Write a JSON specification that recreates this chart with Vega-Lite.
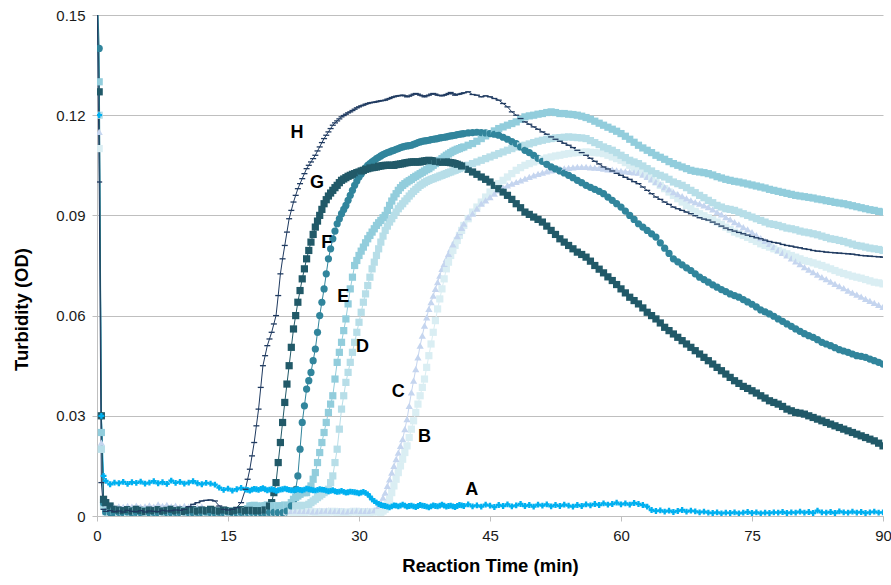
{
"$schema": "https://vega.github.io/schema/vega-lite/v6.json",
"width": 786,
"height": 501,
"autosize": {"type": "none"},
"padding": {"left": 97, "top": 15, "right": 8, "bottom": 69},
"background": "white",
"config": {"view": {"stroke": null}, "font": "Liberation Sans"},
"datasets": {
"turb": [
{"t":0,"A":0.16,"B":0.16,"C":0.16,"D":0.16,"E":0.16,"F":0.16,"G":0.16,"H":0.16},
{"t":0.25,"A":0.12,"B":0.11,"C":0.115,"D":0.12,"E":0.13,"F":0.14,"G":0.127,"H":0.1},
{"t":0.5,"A":0.03,"B":0.02,"C":0.022,"D":0.02,"E":0.025,"F":0.03,"G":0.03,"H":0.01},
{"t":0.75,"A":0.012,"B":0.003,"C":0.004,"D":0.003,"E":0.004,"F":0.004,"G":0.005,"H":0.002},
{"t":1,"A":0.0105,"B":0.0012,"C":0.0028,"D":0.0016,"E":0.0015,"F":0.0012,"G":0.004,"H":0.0014},
{"t":1.5,"A":0.0095,"B":0.001,"C":0.003,"D":0.0014,"E":0.0017,"F":0.001,"G":0.003,"H":0.0016},
{"t":2,"A":0.01,"B":0.0014,"C":0.0026,"D":0.0015,"E":0.0014,"F":0.0009,"G":0.002,"H":0.0013},
{"t":2.5,"A":0.0098,"B":0.0011,"C":0.0029,"D":0.0017,"E":0.0016,"F":0.0011,"G":0.0018,"H":0.0015},
{"t":3,"A":0.0102,"B":0.0013,"C":0.0027,"D":0.0014,"E":0.0015,"F":0.001,"G":0.0016,"H":0.0012},
{"t":3.5,"A":0.0096,"B":0.001,"C":0.003,"D":0.0016,"E":0.0013,"F":0.0012,"G":0.0019,"H":0.0017},
{"t":4,"A":0.0101,"B":0.0012,"C":0.0028,"D":0.0015,"E":0.0016,"F":0.0009,"G":0.0015,"H":0.0014},
{"t":4.5,"A":0.0099,"B":0.0014,"C":0.0031,"D":0.0013,"E":0.0015,"F":0.0011,"G":0.002,"H":0.0013},
{"t":5,"A":0.0103,"B":0.0011,"C":0.0027,"D":0.0016,"E":0.0014,"F":0.001,"G":0.0017,"H":0.0016},
{"t":5.5,"A":0.0097,"B":0.0013,"C":0.0029,"D":0.0015,"E":0.0016,"F":0.0012,"G":0.0014,"H":0.0012},
{"t":6,"A":0.01,"B":0.001,"C":0.0032,"D":0.0014,"E":0.0015,"F":0.0009,"G":0.0018,"H":0.0015},
{"t":6.5,"A":0.0104,"B":0.0012,"C":0.0028,"D":0.0016,"E":0.0013,"F":0.0011,"G":0.0016,"H":0.0014},
{"t":7,"A":0.0098,"B":0.0014,"C":0.0035,"D":0.0015,"E":0.0016,"F":0.001,"G":0.0019,"H":0.0013},
{"t":7.5,"A":0.0101,"B":0.0011,"C":0.003,"D":0.0013,"E":0.0015,"F":0.0012,"G":0.0015,"H":0.0017},
{"t":8,"A":0.0096,"B":0.0013,"C":0.0033,"D":0.0016,"E":0.0014,"F":0.001,"G":0.0017,"H":0.0015},
{"t":8.5,"A":0.0106,"B":0.001,"C":0.0029,"D":0.0015,"E":0.0016,"F":0.0009,"G":0.002,"H":0.0016},
{"t":9,"A":0.0099,"B":0.0012,"C":0.0031,"D":0.0014,"E":0.0015,"F":0.0011,"G":0.0016,"H":0.0018},
{"t":9.5,"A":0.0102,"B":0.0014,"C":0.0027,"D":0.0016,"E":0.0013,"F":0.001,"G":0.0018,"H":0.0017},
{"t":10,"A":0.0097,"B":0.0011,"C":0.003,"D":0.0015,"E":0.0016,"F":0.0012,"G":0.0014,"H":0.002},
{"t":10.5,"A":0.01,"B":0.0013,"C":0.0028,"D":0.0013,"E":0.0015,"F":0.001,"G":0.0017,"H":0.0028},
{"t":11,"A":0.0104,"B":0.001,"C":0.0029,"D":0.0016,"E":0.0014,"F":0.0009,"G":0.0019,"H":0.0035},
{"t":11.5,"A":0.0098,"B":0.0012,"C":0.0026,"D":0.0015,"E":0.0016,"F":0.0011,"G":0.0015,"H":0.004},
{"t":12,"A":0.0095,"B":0.0014,"C":0.0028,"D":0.0014,"E":0.0015,"F":0.001,"G":0.0018,"H":0.0045},
{"t":12.5,"A":0.0099,"B":0.0011,"C":0.0018,"D":0.0016,"E":0.0013,"F":0.0012,"G":0.0016,"H":0.0047},
{"t":13,"A":0.0097,"B":0.0013,"C":0.0016,"D":0.0015,"E":0.0016,"F":0.001,"G":0.002,"H":0.0048},
{"t":13.5,"A":0.0094,"B":0.001,"C":0.0015,"D":0.0014,"E":0.0015,"F":0.0009,"G":0.0017,"H":0.0045},
{"t":14,"A":0.0085,"B":0.0012,"C":0.0017,"D":0.0016,"E":0.0014,"F":0.0011,"G":0.0015,"H":0.003},
{"t":14.5,"A":0.0078,"B":0.0014,"C":0.0014,"D":0.0015,"E":0.0016,"F":0.001,"G":0.0018,"H":0.002},
{"t":15,"A":0.0082,"B":0.0011,"C":0.0016,"D":0.0013,"E":0.0015,"F":0.0012,"G":0.0016,"H":0.0018},
{"t":15.5,"A":0.0076,"B":0.0013,"C":0.0015,"D":0.0016,"E":0.0013,"F":0.001,"G":0.0014,"H":0.002},
{"t":16,"A":0.008,"B":0.001,"C":0.0017,"D":0.0015,"E":0.0016,"F":0.0009,"G":0.0017,"H":0.0025},
{"t":16.5,"A":0.0084,"B":0.0012,"C":0.0014,"D":0.0014,"E":0.0015,"F":0.0011,"G":0.0019,"H":0.004},
{"t":17,"A":0.0079,"B":0.0014,"C":0.0016,"D":0.0016,"E":0.0014,"F":0.001,"G":0.0015,"H":0.008},
{"t":17.5,"A":0.0076,"B":0.0011,"C":0.0015,"D":0.0015,"E":0.003,"F":0.0012,"G":0.0018,"H":0.014},
{"t":18,"A":0.0081,"B":0.0013,"C":0.0013,"D":0.0014,"E":0.0032,"F":0.001,"G":0.0016,"H":0.022},
{"t":18.5,"A":0.0078,"B":0.001,"C":0.0016,"D":0.0016,"E":0.0028,"F":0.0009,"G":0.0017,"H":0.032},
{"t":19,"A":0.0083,"B":0.0012,"C":0.0015,"D":0.0015,"E":0.003,"F":0.0011,"G":0.0015,"H":0.045},
{"t":19.5,"A":0.0077,"B":0.0014,"C":0.0017,"D":0.003,"E":0.0033,"F":0.001,"G":0.002,"H":0.051},
{"t":20,"A":0.008,"B":0.0011,"C":0.0014,"D":0.0032,"E":0.0029,"F":0.0012,"G":0.004,"H":0.055},
{"t":20.5,"A":0.0075,"B":0.0013,"C":0.0016,"D":0.0028,"E":0.0031,"F":0.001,"G":0.01,"H":0.06},
{"t":21,"A":0.0079,"B":0.001,"C":0.0015,"D":0.003,"E":0.003,"F":0.0011,"G":0.022,"H":0.0725},
{"t":21.5,"A":0.0082,"B":0.0012,"C":0.0013,"D":0.0033,"E":0.0032,"F":0.001,"G":0.034,"H":0.081},
{"t":22,"A":0.0078,"B":0.0014,"C":0.0016,"D":0.0029,"E":0.003,"F":0.002,"G":0.045,"H":0.089},
{"t":22.5,"A":0.0076,"B":0.0011,"C":0.0015,"D":0.0031,"E":0.005,"F":0.004,"G":0.056,"H":0.094},
{"t":23,"A":0.008,"B":0.0013,"C":0.0017,"D":0.003,"E":0.006,"F":0.012,"G":0.064,"H":0.098},
{"t":23.5,"A":0.0077,"B":0.001,"C":0.0014,"D":0.0032,"E":0.007,"F":0.028,"G":0.071,"H":0.101},
{"t":24,"A":0.0082,"B":0.0012,"C":0.0016,"D":0.003,"E":0.007,"F":0.038,"G":0.077,"H":0.104},
{"t":24.5,"A":0.0079,"B":0.0014,"C":0.0015,"D":0.004,"E":0.009,"F":0.043,"G":0.082,"H":0.106},
{"t":25,"A":0.0076,"B":0.0011,"C":0.0013,"D":0.005,"E":0.013,"F":0.05,"G":0.0865,"H":0.108},
{"t":25.5,"A":0.008,"B":0.0013,"C":0.0016,"D":0.006,"E":0.019,"F":0.06,"G":0.09,"H":0.1105},
{"t":26,"A":0.0078,"B":0.001,"C":0.0015,"D":0.007,"E":0.025,"F":0.068,"G":0.0935,"H":0.113},
{"t":26.5,"A":0.0074,"B":0.0012,"C":0.0017,"D":0.008,"E":0.031,"F":0.077,"G":0.0958,"H":0.115},
{"t":27,"A":0.0077,"B":0.0014,"C":0.0014,"D":0.012,"E":0.036,"F":0.083,"G":0.0975,"H":0.117},
{"t":27.5,"A":0.0072,"B":0.0011,"C":0.0016,"D":0.02,"E":0.046,"F":0.0875,"G":0.099,"H":0.1183},
{"t":28,"A":0.0075,"B":0.0013,"C":0.0015,"D":0.032,"E":0.052,"F":0.0905,"G":0.1005,"H":0.1195},
{"t":28.5,"A":0.007,"B":0.001,"C":0.0013,"D":0.04,"E":0.059,"F":0.093,"G":0.1013,"H":0.1203},
{"t":29,"A":0.0073,"B":0.0012,"C":0.0016,"D":0.046,"E":0.068,"F":0.096,"G":0.102,"H":0.121},
{"t":29.5,"A":0.0071,"B":0.0014,"C":0.0015,"D":0.052,"E":0.075,"F":0.099,"G":0.1025,"H":0.1218},
{"t":30,"A":0.0068,"B":0.0011,"C":0.0017,"D":0.058,"E":0.078,"F":0.1015,"G":0.103,"H":0.1225},
{"t":30.5,"A":0.0072,"B":0.0013,"C":0.0014,"D":0.064,"E":0.0805,"F":0.1033,"G":0.1035,"H":0.123},
{"t":31,"A":0.0065,"B":0.001,"C":0.0016,"D":0.069,"E":0.083,"F":0.105,"G":0.104,"H":0.1235},
{"t":31.5,"A":0.005,"B":0.0012,"C":0.0015,"D":0.074,"E":0.085,"F":0.106,"G":0.1043,"H":0.1238},
{"t":32,"A":0.004,"B":0.0014,"C":0.002,"D":0.078,"E":0.087,"F":0.107,"G":0.1045,"H":0.124},
{"t":32.5,"A":0.0033,"B":0.0011,"C":0.004,"D":0.082,"E":0.0885,"F":0.1078,"G":0.1048,"H":0.1243},
{"t":33,"A":0.003,"B":0.002,"C":0.007,"D":0.0855,"E":0.09,"F":0.1085,"G":0.105,"H":0.1245},
{"t":33.5,"A":0.0026,"B":0.005,"C":0.011,"D":0.088,"E":0.093,"F":0.109,"G":0.105,"H":0.125},
{"t":34,"A":0.0032,"B":0.009,"C":0.015,"D":0.09,"E":0.0955,"F":0.1095,"G":0.105,"H":0.1255},
{"t":34.5,"A":0.0029,"B":0.013,"C":0.019,"D":0.092,"E":0.0975,"F":0.11,"G":0.1053,"H":0.1258},
{"t":35,"A":0.0034,"B":0.017,"C":0.023,"D":0.0935,"E":0.099,"F":0.1105,"G":0.1055,"H":0.126},
{"t":35.5,"A":0.0028,"B":0.021,"C":0.029,"D":0.095,"E":0.1,"F":0.1108,"G":0.1058,"H":0.1255},
{"t":36,"A":0.0031,"B":0.026,"C":0.037,"D":0.0965,"E":0.1008,"F":0.111,"G":0.106,"H":0.126},
{"t":36.5,"A":0.0027,"B":0.031,"C":0.044,"D":0.0978,"E":0.1017,"F":0.1115,"G":0.106,"H":0.1265},
{"t":37,"A":0.0033,"B":0.036,"C":0.051,"D":0.099,"E":0.1025,"F":0.112,"G":0.106,"H":0.126},
{"t":37.5,"A":0.003,"B":0.041,"C":0.057,"D":0.0998,"E":0.1033,"F":0.1123,"G":0.1063,"H":0.1255},
{"t":38,"A":0.0026,"B":0.048,"C":0.062,"D":0.1005,"E":0.104,"F":0.1125,"G":0.1065,"H":0.126},
{"t":38.5,"A":0.0032,"B":0.055,"C":0.066,"D":0.101,"E":0.105,"F":0.1128,"G":0.1063,"H":0.1265},
{"t":39,"A":0.0029,"B":0.062,"C":0.07,"D":0.1015,"E":0.106,"F":0.113,"G":0.106,"H":0.126},
{"t":39.5,"A":0.0034,"B":0.068,"C":0.074,"D":0.102,"E":0.107,"F":0.1133,"G":0.106,"H":0.1258},
{"t":40,"A":0.0028,"B":0.074,"C":0.077,"D":0.1025,"E":0.108,"F":0.1135,"G":0.106,"H":0.1262},
{"t":40.5,"A":0.0031,"B":0.078,"C":0.08,"D":0.103,"E":0.1088,"F":0.1138,"G":0.1058,"H":0.1268},
{"t":41,"A":0.0027,"B":0.081,"C":0.0825,"D":0.1035,"E":0.1095,"F":0.114,"G":0.1055,"H":0.126},
{"t":41.5,"A":0.0033,"B":0.084,"C":0.085,"D":0.104,"E":0.11,"F":0.1143,"G":0.105,"H":0.1263},
{"t":42,"A":0.003,"B":0.087,"C":0.0875,"D":0.1045,"E":0.1105,"F":0.1145,"G":0.1045,"H":0.1267},
{"t":42.5,"A":0.0035,"B":0.089,"C":0.0895,"D":0.105,"E":0.111,"F":0.1147,"G":0.1038,"H":0.127},
{"t":43,"A":0.0029,"B":0.091,"C":0.0905,"D":0.1055,"E":0.1115,"F":0.1148,"G":0.103,"H":0.1262},
{"t":43.5,"A":0.0032,"B":0.0925,"C":0.092,"D":0.106,"E":0.1122,"F":0.1149,"G":0.1023,"H":0.126},
{"t":44,"A":0.0028,"B":0.094,"C":0.0935,"D":0.1065,"E":0.113,"F":0.1148,"G":0.1015,"H":0.1255},
{"t":44.5,"A":0.0034,"B":0.0955,"C":0.0945,"D":0.107,"E":0.1138,"F":0.1147,"G":0.1008,"H":0.1258},
{"t":45,"A":0.0031,"B":0.097,"C":0.0955,"D":0.1075,"E":0.1145,"F":0.1145,"G":0.1,"H":0.1255},
{"t":45.5,"A":0.0027,"B":0.0983,"C":0.0965,"D":0.108,"E":0.1153,"F":0.1143,"G":0.099,"H":0.125},
{"t":46,"A":0.0033,"B":0.0995,"C":0.0975,"D":0.1085,"E":0.116,"F":0.114,"G":0.098,"H":0.1245},
{"t":46.5,"A":0.003,"B":0.1005,"C":0.0983,"D":0.109,"E":0.1165,"F":0.1134,"G":0.097,"H":0.1235},
{"t":47,"A":0.0035,"B":0.1015,"C":0.099,"D":0.1095,"E":0.117,"F":0.1128,"G":0.096,"H":0.1225},
{"t":47.5,"A":0.0029,"B":0.1025,"C":0.0995,"D":0.11,"E":0.1175,"F":0.1121,"G":0.0948,"H":0.121},
{"t":48,"A":0.0032,"B":0.1035,"C":0.1,"D":0.1105,"E":0.118,"F":0.1115,"G":0.0935,"H":0.12},
{"t":48.5,"A":0.0036,"B":0.1043,"C":0.1005,"D":0.1108,"E":0.1188,"F":0.1105,"G":0.0923,"H":0.119},
{"t":49,"A":0.003,"B":0.105,"C":0.101,"D":0.111,"E":0.1195,"F":0.1095,"G":0.091,"H":0.118},
{"t":49.5,"A":0.0033,"B":0.1055,"C":0.1015,"D":0.1114,"E":0.1198,"F":0.1088,"G":0.0903,"H":0.1173},
{"t":50,"A":0.0028,"B":0.106,"C":0.102,"D":0.1118,"E":0.12,"F":0.108,"G":0.0895,"H":0.1165},
{"t":50.5,"A":0.0034,"B":0.1064,"C":0.1024,"D":0.1122,"E":0.1203,"F":0.1071,"G":0.0888,"H":0.1158},
{"t":51,"A":0.0031,"B":0.1068,"C":0.1028,"D":0.1125,"E":0.1205,"F":0.1062,"G":0.088,"H":0.115},
{"t":51.5,"A":0.0035,"B":0.1072,"C":0.1032,"D":0.1128,"E":0.1208,"F":0.1053,"G":0.0868,"H":0.1143},
{"t":52,"A":0.0029,"B":0.1075,"C":0.1035,"D":0.113,"E":0.121,"F":0.1045,"G":0.0855,"H":0.1135},
{"t":52.5,"A":0.0033,"B":0.1078,"C":0.1038,"D":0.1132,"E":0.1208,"F":0.1039,"G":0.0843,"H":0.1128},
{"t":53,"A":0.003,"B":0.108,"C":0.104,"D":0.1133,"E":0.1205,"F":0.1033,"G":0.083,"H":0.1122},
{"t":53.5,"A":0.0034,"B":0.1083,"C":0.1041,"D":0.1134,"E":0.1205,"F":0.1027,"G":0.082,"H":0.1116},
{"t":54,"A":0.0031,"B":0.1085,"C":0.1042,"D":0.1135,"E":0.1203,"F":0.102,"G":0.081,"H":0.111},
{"t":54.5,"A":0.0028,"B":0.1087,"C":0.1044,"D":0.1134,"E":0.1202,"F":0.1013,"G":0.08,"H":0.1103},
{"t":55,"A":0.0033,"B":0.1088,"C":0.1045,"D":0.1133,"E":0.12,"F":0.1005,"G":0.079,"H":0.1095},
{"t":55.5,"A":0.003,"B":0.1089,"C":0.1045,"D":0.1132,"E":0.1197,"F":0.0998,"G":0.0783,"H":0.1088},
{"t":56,"A":0.0035,"B":0.109,"C":0.1045,"D":0.113,"E":0.1193,"F":0.099,"G":0.0775,"H":0.108},
{"t":56.5,"A":0.0032,"B":0.1089,"C":0.1044,"D":0.1124,"E":0.1188,"F":0.0984,"G":0.0763,"H":0.1071},
{"t":57,"A":0.0036,"B":0.1088,"C":0.1043,"D":0.1118,"E":0.1182,"F":0.0978,"G":0.075,"H":0.1062},
{"t":57.5,"A":0.0033,"B":0.1087,"C":0.1042,"D":0.1112,"E":0.1176,"F":0.0972,"G":0.0739,"H":0.1054},
{"t":58,"A":0.0038,"B":0.1085,"C":0.104,"D":0.1105,"E":0.117,"F":0.0965,"G":0.0728,"H":0.1045},
{"t":58.5,"A":0.0034,"B":0.108,"C":0.1038,"D":0.11,"E":0.1164,"F":0.0955,"G":0.0716,"H":0.1039},
{"t":59,"A":0.0036,"B":0.1075,"C":0.1037,"D":0.1095,"E":0.1158,"F":0.0945,"G":0.0705,"H":0.1033},
{"t":59.5,"A":0.004,"B":0.107,"C":0.1035,"D":0.1088,"E":0.1152,"F":0.0935,"G":0.0693,"H":0.1026},
{"t":60,"A":0.0035,"B":0.1065,"C":0.1033,"D":0.108,"E":0.1145,"F":0.0925,"G":0.068,"H":0.102},
{"t":60.5,"A":0.0038,"B":0.1058,"C":0.1032,"D":0.1073,"E":0.1137,"F":0.0913,"G":0.0668,"H":0.1014},
{"t":61,"A":0.0034,"B":0.105,"C":0.103,"D":0.1065,"E":0.1128,"F":0.09,"G":0.0655,"H":0.1008},
{"t":61.5,"A":0.0039,"B":0.1043,"C":0.1029,"D":0.106,"E":0.1119,"F":0.0888,"G":0.0645,"H":0.1001},
{"t":62,"A":0.0036,"B":0.1035,"C":0.1028,"D":0.1055,"E":0.111,"F":0.0875,"G":0.0635,"H":0.0995},
{"t":62.5,"A":0.0033,"B":0.1028,"C":0.1022,"D":0.1048,"E":0.1102,"F":0.0865,"G":0.0623,"H":0.0985},
{"t":63,"A":0.0028,"B":0.102,"C":0.1015,"D":0.104,"E":0.1095,"F":0.0855,"G":0.061,"H":0.0975},
{"t":63.5,"A":0.0018,"B":0.101,"C":0.1008,"D":0.1033,"E":0.1088,"F":0.0845,"G":0.06,"H":0.0965},
{"t":64,"A":0.0015,"B":0.1,"C":0.1,"D":0.1025,"E":0.108,"F":0.0835,"G":0.059,"H":0.0955},
{"t":64.5,"A":0.0017,"B":0.099,"C":0.0993,"D":0.102,"E":0.1074,"F":0.0818,"G":0.0578,"H":0.0948},
{"t":65,"A":0.0013,"B":0.098,"C":0.0985,"D":0.1015,"E":0.1068,"F":0.0802,"G":0.0565,"H":0.094},
{"t":65.5,"A":0.0016,"B":0.097,"C":0.0978,"D":0.1008,"E":0.1061,"F":0.0786,"G":0.0555,"H":0.0933},
{"t":66,"A":0.0012,"B":0.096,"C":0.097,"D":0.1,"E":0.1055,"F":0.077,"G":0.0545,"H":0.0925},
{"t":66.5,"A":0.0015,"B":0.095,"C":0.0964,"D":0.0995,"E":0.105,"F":0.0761,"G":0.0535,"H":0.092},
{"t":67,"A":0.0018,"B":0.094,"C":0.0958,"D":0.099,"E":0.1045,"F":0.0752,"G":0.0525,"H":0.0915},
{"t":67.5,"A":0.0013,"B":0.093,"C":0.0951,"D":0.0983,"E":0.104,"F":0.0743,"G":0.0515,"H":0.091},
{"t":68,"A":0.0016,"B":0.092,"C":0.0945,"D":0.0975,"E":0.1035,"F":0.0735,"G":0.0505,"H":0.0905},
{"t":68.5,"A":0.0014,"B":0.0912,"C":0.094,"D":0.0968,"E":0.1032,"F":0.0725,"G":0.0495,"H":0.0899},
{"t":69,"A":0.0011,"B":0.0905,"C":0.0935,"D":0.096,"E":0.103,"F":0.0715,"G":0.0485,"H":0.0893},
{"t":69.5,"A":0.0013,"B":0.0899,"C":0.093,"D":0.0953,"E":0.1028,"F":0.0708,"G":0.0475,"H":0.0889},
{"t":70,"A":0.001,"B":0.0893,"C":0.0925,"D":0.0945,"E":0.1025,"F":0.07,"G":0.0465,"H":0.0886},
{"t":70.5,"A":0.0009,"B":0.0887,"C":0.0918,"D":0.0938,"E":0.1021,"F":0.0692,"G":0.0455,"H":0.088},
{"t":71,"A":0.0011,"B":0.088,"C":0.091,"D":0.093,"E":0.1016,"F":0.0685,"G":0.0445,"H":0.0874},
{"t":71.5,"A":0.0008,"B":0.0873,"C":0.0903,"D":0.0925,"E":0.1012,"F":0.0678,"G":0.0435,"H":0.0868},
{"t":72,"A":0.001,"B":0.0865,"C":0.0895,"D":0.092,"E":0.1008,"F":0.0672,"G":0.0425,"H":0.0862},
{"t":72.5,"A":0.0009,"B":0.0858,"C":0.0888,"D":0.0918,"E":0.1005,"F":0.0665,"G":0.0415,"H":0.0857},
{"t":73,"A":0.0011,"B":0.085,"C":0.088,"D":0.0915,"E":0.1002,"F":0.066,"G":0.0405,"H":0.0853},
{"t":73.5,"A":0.0008,"B":0.0845,"C":0.0873,"D":0.091,"E":0.1,"F":0.0655,"G":0.0397,"H":0.0849},
{"t":74,"A":0.001,"B":0.084,"C":0.0865,"D":0.0905,"E":0.0997,"F":0.0648,"G":0.0388,"H":0.0845},
{"t":74.5,"A":0.0012,"B":0.0834,"C":0.0858,"D":0.09,"E":0.0994,"F":0.0641,"G":0.0382,"H":0.0841},
{"t":75,"A":0.0009,"B":0.0828,"C":0.085,"D":0.0895,"E":0.0991,"F":0.0634,"G":0.0375,"H":0.0837},
{"t":75.5,"A":0.0011,"B":0.0822,"C":0.0841,"D":0.089,"E":0.0988,"F":0.0626,"G":0.0368,"H":0.0833},
{"t":76,"A":0.0008,"B":0.0815,"C":0.0832,"D":0.0885,"E":0.0985,"F":0.0617,"G":0.036,"H":0.083},
{"t":76.5,"A":0.001,"B":0.081,"C":0.0824,"D":0.088,"E":0.0982,"F":0.0611,"G":0.0353,"H":0.0826},
{"t":77,"A":0.0009,"B":0.0805,"C":0.0815,"D":0.0875,"E":0.0978,"F":0.0605,"G":0.0345,"H":0.0822},
{"t":77.5,"A":0.0011,"B":0.08,"C":0.0806,"D":0.0873,"E":0.0975,"F":0.0598,"G":0.034,"H":0.0819},
{"t":78,"A":0.001,"B":0.0795,"C":0.0796,"D":0.087,"E":0.0972,"F":0.059,"G":0.0335,"H":0.0817},
{"t":78.5,"A":0.0012,"B":0.079,"C":0.0788,"D":0.0866,"E":0.0969,"F":0.0583,"G":0.0328,"H":0.0813},
{"t":79,"A":0.0009,"B":0.0785,"C":0.078,"D":0.0862,"E":0.0966,"F":0.0575,"G":0.032,"H":0.081},
{"t":79.5,"A":0.0011,"B":0.078,"C":0.0771,"D":0.086,"E":0.0963,"F":0.0568,"G":0.0315,"H":0.0808},
{"t":80,"A":0.001,"B":0.0775,"C":0.0762,"D":0.0857,"E":0.096,"F":0.056,"G":0.031,"H":0.0805},
{"t":80.5,"A":0.0013,"B":0.077,"C":0.0754,"D":0.0853,"E":0.0958,"F":0.0553,"G":0.0308,"H":0.0803},
{"t":81,"A":0.001,"B":0.0765,"C":0.0745,"D":0.085,"E":0.0956,"F":0.0546,"G":0.0305,"H":0.08},
{"t":81.5,"A":0.0012,"B":0.0762,"C":0.0738,"D":0.0848,"E":0.0954,"F":0.054,"G":0.03,"H":0.0798},
{"t":82,"A":0.0009,"B":0.0758,"C":0.073,"D":0.0845,"E":0.0952,"F":0.0535,"G":0.0295,"H":0.0795},
{"t":82.5,"A":0.0016,"B":0.0754,"C":0.0723,"D":0.0842,"E":0.0949,"F":0.0528,"G":0.029,"H":0.0793},
{"t":83,"A":0.0011,"B":0.075,"C":0.0715,"D":0.0838,"E":0.0947,"F":0.052,"G":0.0285,"H":0.0792},
{"t":83.5,"A":0.001,"B":0.0745,"C":0.0709,"D":0.0834,"E":0.0944,"F":0.0515,"G":0.028,"H":0.079},
{"t":84,"A":0.0012,"B":0.074,"C":0.0702,"D":0.083,"E":0.0942,"F":0.051,"G":0.0275,"H":0.0789},
{"t":84.5,"A":0.0009,"B":0.0735,"C":0.0695,"D":0.0828,"E":0.0939,"F":0.0504,"G":0.027,"H":0.0788},
{"t":85,"A":0.0014,"B":0.073,"C":0.0688,"D":0.0825,"E":0.0937,"F":0.0498,"G":0.0265,"H":0.0787},
{"t":85.5,"A":0.0011,"B":0.0726,"C":0.0682,"D":0.0822,"E":0.0935,"F":0.0494,"G":0.026,"H":0.0786},
{"t":86,"A":0.001,"B":0.0722,"C":0.0675,"D":0.0818,"E":0.0932,"F":0.049,"G":0.0255,"H":0.0785},
{"t":86.5,"A":0.0013,"B":0.0718,"C":0.0669,"D":0.0814,"E":0.0929,"F":0.0485,"G":0.025,"H":0.0784},
{"t":87,"A":0.001,"B":0.0715,"C":0.0663,"D":0.081,"E":0.0926,"F":0.048,"G":0.0245,"H":0.0782},
{"t":87.5,"A":0.0012,"B":0.0712,"C":0.0657,"D":0.0808,"E":0.0923,"F":0.0478,"G":0.024,"H":0.078},
{"t":88,"A":0.0009,"B":0.0708,"C":0.065,"D":0.0805,"E":0.092,"F":0.0475,"G":0.0235,"H":0.0779},
{"t":88.5,"A":0.0011,"B":0.0704,"C":0.0644,"D":0.0802,"E":0.0917,"F":0.047,"G":0.023,"H":0.0778},
{"t":89,"A":0.0013,"B":0.07,"C":0.0638,"D":0.08,"E":0.0915,"F":0.0465,"G":0.0225,"H":0.0777},
{"t":89.5,"A":0.001,"B":0.0698,"C":0.0632,"D":0.0798,"E":0.0912,"F":0.046,"G":0.0218,"H":0.0776},
{"t":90,"A":0.0011,"B":0.0695,"C":0.0626,"D":0.0795,"E":0.091,"F":0.0455,"G":0.021,"H":0.0775},
{"t":17.25,"A":0.0078,"B":0.0012,"C":0.0015,"D":0.0015,"E":0.0022,"F":0.0011,"G":0.0017,"H":0.011},
{"t":17.75,"A":0.0079,"B":0.0012,"C":0.0014,"D":0.0015,"E":0.0031,"F":0.0011,"G":0.0017,"H":0.018},
{"t":18.25,"A":0.008,"B":0.0011,"C":0.0015,"D":0.0015,"E":0.003,"F":0.001,"G":0.0016,"H":0.027},
{"t":18.75,"A":0.0081,"B":0.0011,"C":0.0015,"D":0.0015,"E":0.0029,"F":0.001,"G":0.0016,"H":0.0385},
{"t":19.25,"A":0.008,"B":0.0013,"C":0.0016,"D":0.0022,"E":0.0031,"F":0.001,"G":0.0018,"H":0.048},
{"t":19.75,"A":0.0079,"B":0.0012,"C":0.0015,"D":0.0031,"E":0.0031,"F":0.0011,"G":0.003,"H":0.053},
{"t":20.25,"A":0.0078,"B":0.0012,"C":0.0015,"D":0.003,"E":0.003,"F":0.0011,"G":0.007,"H":0.0575},
{"t":20.75,"A":0.0077,"B":0.0011,"C":0.0015,"D":0.0029,"E":0.003,"F":0.001,"G":0.016,"H":0.066},
{"t":21.25,"A":0.008,"B":0.0011,"C":0.0014,"D":0.0031,"E":0.0031,"F":0.001,"G":0.028,"H":0.077},
{"t":21.75,"A":0.008,"B":0.0013,"C":0.0014,"D":0.0031,"E":0.0031,"F":0.0015,"G":0.0395,"H":0.085},
{"t":22.25,"A":0.0077,"B":0.0012,"C":0.0015,"D":0.003,"E":0.004,"F":0.003,"G":0.0505,"H":0.0915},
{"t":22.75,"A":0.0078,"B":0.0012,"C":0.0016,"D":0.003,"E":0.0055,"F":0.008,"G":0.06,"H":0.096},
{"t":23.25,"A":0.0078,"B":0.0011,"C":0.0015,"D":0.0031,"E":0.0065,"F":0.02,"G":0.0675,"H":0.0995},
{"t":23.75,"A":0.0079,"B":0.0011,"C":0.0015,"D":0.0031,"E":0.007,"F":0.033,"G":0.074,"H":0.1025},
{"t":24.25,"A":0.008,"B":0.0013,"C":0.0015,"D":0.0035,"E":0.008,"F":0.0405,"G":0.0795,"H":0.105},
{"t":24.75,"A":0.0077,"B":0.0012,"C":0.0014,"D":0.0045,"E":0.011,"F":0.0465,"G":0.0843,"H":0.107},
{"t":25.25,"A":0.0078,"B":0.0012,"C":0.0014,"D":0.0055,"E":0.016,"F":0.055,"G":0.0883,"H":0.1093},
{"t":25.75,"A":0.0079,"B":0.0011,"C":0.0015,"D":0.0065,"E":0.022,"F":0.064,"G":0.0918,"H":0.1118},
{"t":26.25,"A":0.0076,"B":0.0011,"C":0.0016,"D":0.0075,"E":0.028,"F":0.0725,"G":0.0947,"H":0.114},
{"t":26.75,"A":0.0075,"B":0.0013,"C":0.0015,"D":0.01,"E":0.0335,"F":0.08,"G":0.0967,"H":0.116},
{"t":27.25,"A":0.0074,"B":0.0012,"C":0.0015,"D":0.016,"E":0.041,"F":0.0853,"G":0.0983,"H":0.1177},
{"t":27.75,"A":0.0073,"B":0.0012,"C":0.0015,"D":0.026,"E":0.049,"F":0.089,"G":0.0998,"H":0.1189},
{"t":28.25,"A":0.0072,"B":0.0011,"C":0.0014,"D":0.036,"E":0.0555,"F":0.0918,"G":0.1009,"H":0.1199},
{"t":28.75,"A":0.0071,"B":0.0011,"C":0.0014,"D":0.043,"E":0.0635,"F":0.0945,"G":0.1017,"H":0.1207},
{"t":29.25,"A":0.0072,"B":0.0013,"C":0.0015,"D":0.049,"E":0.0715,"F":0.0975,"G":0.1023,"H":0.1214},
{"t":29.75,"A":0.007,"B":0.0012,"C":0.0016,"D":0.055,"E":0.0765,"F":0.1003,"G":0.1028,"H":0.1222},
{"t":30.25,"A":0.007,"B":0.0012,"C":0.0015,"D":0.061,"E":0.0793,"F":0.1024,"G":0.1033,"H":0.1228},
{"t":30.75,"A":0.0069,"B":0.0011,"C":0.0015,"D":0.0665,"E":0.0818,"F":0.1042,"G":0.1038,"H":0.1233},
{"t":31.25,"A":0.0058,"B":0.0011,"C":0.0015,"D":0.0715,"E":0.084,"F":0.1055,"G":0.1042,"H":0.1237},
{"t":31.75,"A":0.0045,"B":0.0013,"C":0.0017,"D":0.076,"E":0.086,"F":0.1065,"G":0.1044,"H":0.1239},
{"t":32.25,"A":0.0036,"B":0.0012,"C":0.003,"D":0.08,"E":0.0878,"F":0.1074,"G":0.1047,"H":0.1242},
{"t":32.75,"A":0.0031,"B":0.0015,"C":0.0055,"D":0.0838,"E":0.0893,"F":0.1082,"G":0.1049,"H":0.1244},
{"t":33.25,"A":0.0028,"B":0.0035,"C":0.009,"D":0.0868,"E":0.0915,"F":0.1088,"G":0.105,"H":0.1248},
{"t":33.75,"A":0.0029,"B":0.007,"C":0.013,"D":0.089,"E":0.0943,"F":0.1093,"G":0.105,"H":0.1253},
{"t":34.25,"A":0.0031,"B":0.011,"C":0.017,"D":0.091,"E":0.0965,"F":0.1098,"G":0.1052,"H":0.1257},
{"t":34.75,"A":0.0031,"B":0.015,"C":0.021,"D":0.0928,"E":0.0983,"F":0.1103,"G":0.1054,"H":0.1259},
{"t":35.25,"A":0.0031,"B":0.019,"C":0.026,"D":0.0943,"E":0.0995,"F":0.1107,"G":0.1057,"H":0.1258},
{"t":35.75,"A":0.003,"B":0.0235,"C":0.033,"D":0.0958,"E":0.1004,"F":0.1109,"G":0.1059,"H":0.1257},
{"t":36.25,"A":0.0029,"B":0.0285,"C":0.0405,"D":0.0972,"E":0.1013,"F":0.1113,"G":0.106,"H":0.1263},
{"t":36.75,"A":0.003,"B":0.0335,"C":0.0475,"D":0.0984,"E":0.1021,"F":0.1118,"G":0.106,"H":0.1263},
{"t":37.25,"A":0.0031,"B":0.0385,"C":0.054,"D":0.0994,"E":0.1029,"F":0.1122,"G":0.1062,"H":0.1258},
{"t":37.75,"A":0.0028,"B":0.0445,"C":0.0595,"D":0.1002,"E":0.1037,"F":0.1124,"G":0.1064,"H":0.1258},
{"t":38.25,"A":0.0029,"B":0.0515,"C":0.064,"D":0.1008,"E":0.1045,"F":0.1127,"G":0.1064,"H":0.1263},
{"t":38.75,"A":0.003,"B":0.0585,"C":0.068,"D":0.1013,"E":0.1055,"F":0.1129,"G":0.1062,"H":0.1263},
{"t":39.25,"A":0.0031,"B":0.065,"C":0.072,"D":0.1018,"E":0.1065,"F":0.1132,"G":0.106,"H":0.1259},
{"t":39.75,"A":0.0031,"B":0.071,"C":0.0755,"D":0.1023,"E":0.1075,"F":0.1134,"G":0.106,"H":0.126},
{"t":40.25,"A":0.003,"B":0.076,"C":0.0785,"D":0.1028,"E":0.1084,"F":0.1137,"G":0.1059,"H":0.1265},
{"t":40.75,"A":0.0029,"B":0.0795,"C":0.0813,"D":0.1033,"E":0.1092,"F":0.1139,"G":0.1057,"H":0.1264},
{"t":41.25,"A":0.003,"B":0.0825,"C":0.0838,"D":0.1038,"E":0.1098,"F":0.1142,"G":0.1053,"H":0.1262},
{"t":41.75,"A":0.0032,"B":0.0855,"C":0.0863,"D":0.1043,"E":0.1103,"F":0.1144,"G":0.1048,"H":0.1265}
],
"labels": [
{"label":"H","t":22.9,"od":0.1147},
{"label":"G","t":25.2,"od":0.0998},
{"label":"F","t":26.3,"od":0.0818},
{"label":"E","t":28.2,"od":0.0657},
{"label":"D","t":30.4,"od":0.0507},
{"label":"C","t":34.5,"od":0.0372},
{"label":"B","t":37.5,"od":0.0238},
{"label":"A","t":42.9,"od":0.0079}
]
},
"encoding": {
"x": {"field": "t", "type": "quantitative", "scale": {"domain": [0, 90], "nice": false, "zero": false},
 "axis": {"values": [0, 15, 30, 45, 60, 75, 90], "title": "Reaction Time (min)", "titleFontSize": 18.5, "titleFontWeight": "bold", "titleColor": "#000000", "titlePadding": 13, "labelFontSize": 15, "labelColor": "#1a1a1a", "labelPadding": 7, "tickSize": 5, "tickColor": "#BFBFBF", "domainColor": "#BFBFBF", "grid": false, "labelFlush": false, "labelOverlap": false}},
"y": {"field": "od", "type": "quantitative", "scale": {"domain": [0, 0.15], "nice": false},
 "axis": {"values": [0, 0.03, 0.06, 0.09, 0.12, 0.15], "labelExpr": "datum.value == 0 ? '0' : format(datum.value, '.2f')", "title": "Turbidity (OD)", "titleFontSize": 18.5, "titleFontWeight": "bold", "titleColor": "#000000", "titlePadding": 24, "titleY": 294, "labelFontSize": 15, "labelColor": "#1a1a1a", "labelPadding": 7, "tickSize": 5, "tickColor": "#BFBFBF", "domainColor": "#BFBFBF", "grid": true, "gridColor": "#BFBFBF", "gridWidth": 1, "labelFlush": false, "labelOverlap": false}}
},
"layer": [
{
"data": {"name": "turb"},
"transform": [{"fold": ["A", "B", "C", "D", "E", "F", "G", "H"], "as": ["series", "od"]}],
"layer": [
{"mark": {"type": "line", "strokeWidth": 1, "clip": true},
 "encoding": {"color": {"field": "series", "type": "nominal", "legend": null, "scale": {"domain": ["A", "B", "C", "D", "E", "F", "G", "H"], "range": ["#00B0F0", "#DAEEF3", "#C5D5EF", "#B7DEE8", "#92CDDC", "#31859C", "#215968", "#1F3A60"]}}}},
{"transform": [{"filter": "datum.series != 'H' && datum.series != 'A'"}],
 "mark": {"type": "point", "filled": true, "opacity": 1, "size": 52, "clip": true},
 "encoding": {"color": {"field": "series", "type": "nominal", "legend": null},
  "shape": {"field": "series", "type": "nominal", "legend": null, "scale": {"domain": ["B", "C", "D", "E", "F", "G"], "range": ["square", "triangle-up", "square", "square", "circle", "square"]}}}},
{"transform": [{"filter": "datum.series == 'A'"}],
 "mark": {"type": "point", "filled": true, "opacity": 1, "size": 34, "shape": "cross", "color": "#00B0F0", "clip": true},
 "encoding": {}},
{"transform": [{"filter": "datum.series == 'H'"}],
 "mark": {"type": "point", "filled": false, "opacity": 1, "size": 36, "shape": "stroke", "strokeWidth": 1.3, "color": "#1F3A60", "clip": true},
 "encoding": {}}
]
},
{
"data": {"name": "labels"},
"mark": {"type": "text", "fontWeight": "bold", "fontSize": 18, "color": "#000000", "align": "center", "baseline": "middle"},
"encoding": {"text": {"field": "label", "type": "nominal"}}
}
]
}
